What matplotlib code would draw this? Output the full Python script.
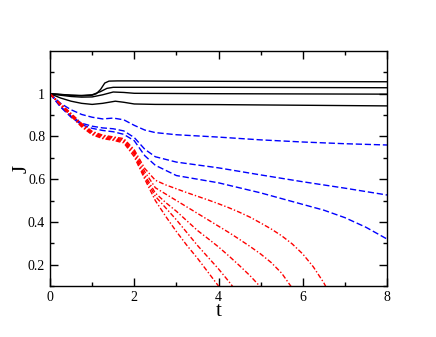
import matplotlib
matplotlib.use("Agg")
import matplotlib.pyplot as plt
from matplotlib.ticker import FixedLocator, MultipleLocator, FuncFormatter

plt.rcParams['font.family'] = ['Liberation Serif', 'DejaVu Serif']

# solid black curves (t, J)
black_t = [
    [0, 0.25, 0.5, 0.75, 1.0, 1.1, 1.2, 1.3, 1.4, 1.6, 2.0, 4.0, 6.0, 8.0],
    [0, 0.25, 0.5, 0.75, 1.0, 1.2, 1.35, 1.5, 2.0, 4.0, 6.0, 8.0],
    [0, 0.25, 0.5, 0.75, 1.0, 1.25, 1.5, 1.75, 2.0, 4.0, 6.0, 8.0],
    [0, 0.25, 0.5, 0.75, 1.0, 1.25, 1.55, 1.75, 2.0, 2.5, 4.0, 6.0, 8.0],
]
black_J = [
    [1.0, 0.997, 0.993, 0.99, 0.993, 1.0, 1.02, 1.05, 1.059, 1.06, 1.06, 1.058, 1.057, 1.056],
    [1.0, 0.996, 0.993, 0.992, 0.995, 1.01, 1.025, 1.03, 1.03, 1.03, 1.029, 1.028],
    [1.0, 0.993, 0.987, 0.984, 0.985, 0.995, 1.008, 1.006, 1.002, 1.0, 0.999, 0.998],
    [1.0, 0.98, 0.965, 0.955, 0.95, 0.955, 0.965, 0.96, 0.952, 0.95, 0.949, 0.946, 0.943],
]

# dashed blue curves
blue_t = [0, 0.25, 0.5, 0.75, 1.0, 1.25, 1.5, 1.75, 2.0, 2.25, 2.5, 3.0, 4.0, 5.0, 6.0, 6.5, 7.0, 7.5, 8.0]
blue_J = [
    [1.0, 0.955, 0.925, 0.903, 0.89, 0.882, 0.886, 0.878, 0.852, 0.83, 0.818, 0.808, 0.797, 0.784, 0.774, 0.77, 0.766, 0.763, 0.76],
    [1.0, 0.94, 0.895, 0.862, 0.848, 0.84, 0.836, 0.826, 0.795, 0.74, 0.705, 0.68, 0.653, 0.62, 0.588, 0.573, 0.558, 0.542, 0.526],
    [1.0, 0.938, 0.89, 0.855, 0.838, 0.828, 0.822, 0.81, 0.78, 0.71, 0.665, 0.617, 0.583, 0.536, 0.482, 0.455, 0.42, 0.375, 0.32],
]

# dash-dot red curves
red_t = [0, 0.25, 0.5, 0.75, 1.0, 1.25, 1.5, 1.75, 2.0, 2.25, 2.5, 2.75, 3.0, 3.25, 3.5, 3.75,
         4.0, 4.25, 4.5, 4.75, 5.0, 5.25, 5.5, 5.75, 6.0, 6.25, 6.5, 6.75, 7.0]
red_J = [
    [1.0, 0.945, 0.895, 0.845, 0.808, 0.79, 0.782, 0.77, 0.705, 0.60, 0.50, 0.425, 0.355, 0.29, 0.23, 0.165,
     0.10, 0.03, -0.04, -0.1, -0.2, -0.3, -0.4, -0.5, -0.6, -0.7, -0.8, -0.9, -1.0],
    [1.0, 0.947, 0.898, 0.849, 0.812, 0.794, 0.786, 0.775, 0.715, 0.61, 0.52, 0.465, 0.41, 0.35, 0.29, 0.235,
     0.18, 0.12, 0.055, -0.01, -0.1, -0.2, -0.3, -0.4, -0.5, -0.6, -0.7, -0.8, -0.9],
    [1.0, 0.949, 0.902, 0.853, 0.816, 0.798, 0.79, 0.78, 0.722, 0.62, 0.535, 0.49, 0.45, 0.405, 0.36, 0.322,
     0.283, 0.24, 0.195, 0.148, 0.095, 0.04, -0.02, -0.1, -0.2, -0.3, -0.4, -0.5, -0.6],
    [1.0, 0.951, 0.905, 0.857, 0.82, 0.802, 0.794, 0.785, 0.73, 0.635, 0.56, 0.53, 0.50, 0.47, 0.44, 0.41,
     0.38, 0.35, 0.318, 0.285, 0.25, 0.21, 0.16, 0.09, 0.01, -0.08, -0.2, -0.3, -0.4],
    [1.0, 0.953, 0.908, 0.861, 0.824, 0.806, 0.798, 0.79, 0.738, 0.65, 0.595, 0.573, 0.555, 0.537, 0.52, 0.503,
     0.485, 0.466, 0.445, 0.422, 0.395, 0.367, 0.335, 0.297, 0.25, 0.19, 0.115, 0.02, -0.08],
]

fig = plt.figure(figsize=(4.36, 3.37), dpi=100)
ax = fig.add_axes([0.1147, 0.1513, 0.7729, 0.6974])

for t, J in zip(black_t, black_J):
    ax.plot(t, J, color='black', lw=1.0)
for J in blue_J:
    ax.plot(blue_t, J, color='#0000ff', lw=1.0, dashes=(4.5, 2.0))
for J in red_J:
    ax.plot(red_t, J, color='#ff0000', lw=1.0, dashes=(3.5, 1.5, 1.0, 1.5))

ax.set_xlim(0, 8)
ax.set_ylim(0.1, 1.2)
ax.xaxis.set_major_locator(MultipleLocator(2))
ax.xaxis.set_minor_locator(MultipleLocator(1))
ax.yaxis.set_major_locator(FixedLocator([0.2, 0.4, 0.6, 0.8, 1.0]))
ax.yaxis.set_minor_locator(FixedLocator([0.1, 0.3, 0.5, 0.7, 0.9, 1.1]))
ax.xaxis.set_major_formatter(FuncFormatter(lambda v, p: '%g' % v))
ax.yaxis.set_major_formatter(FuncFormatter(lambda v, p: '%g' % v))
ax.tick_params(which='both', direction='in', top=True, right=True, labelsize=10, width=1)
ax.tick_params(which='major', length=6)
ax.tick_params(which='minor', length=3)
for s in ax.spines.values():
    s.set_linewidth(1)

ax.set_xlabel('t', fontsize=15, labelpad=-1)
ax.set_ylabel('J', fontsize=15, labelpad=-3)

fig.savefig('out.png', dpi=100)
